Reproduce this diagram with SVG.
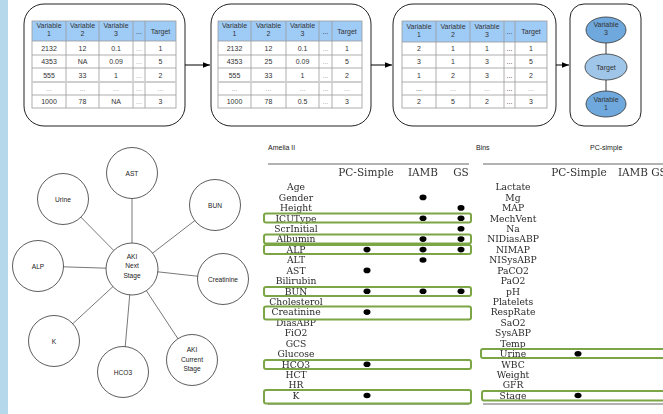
<svg xmlns="http://www.w3.org/2000/svg" width="663" height="414" viewBox="0 0 663 414">
  <defs>
    <marker id="arrowhead" viewBox="0 0 10 10" refX="10" refY="5" markerWidth="7" markerHeight="7" orient="auto" markerUnits="userSpaceOnUse">
      <path d="M0,1 L10,5 L0,9 Z" fill="#000"/>
    </marker>
    <filter id="soft" x="-5%" y="-5%" width="110%" height="110%">
      <feGaussianBlur stdDeviation="0.35"/>
    </filter>
    <style>
      .panel { fill: #fff; stroke: #222; stroke-width: 1; }
      .hdr { fill: #9fcbf7; }
      .grid { fill: none; stroke: #9a9a9a; stroke-width: 0.8; }
      .sep { stroke: #cfcfcf; stroke-width: 2; }
      .t { font-family: "Liberation Sans", Arial, sans-serif; font-size: 7px; fill: #333; text-anchor: middle; }
      .dim { fill: #999; }
      .flow { stroke: #000; stroke-width: 1; fill: none; }
      .edge { stroke: #555; stroke-width: 0.8; }
      .node { fill: #fff; stroke: #333; stroke-width: 0.8; }
      .lbl { font-family: "Liberation Sans", Arial, sans-serif; font-size: 6.6px; fill: #222; text-anchor: middle; }
      .var { fill: #6fa8dc; stroke: #333; stroke-width: 0.8; }
      .tgt { fill: #9fc5e8; stroke: #333; stroke-width: 0.8; }
      .cap { font-family: "Liberation Sans", Arial, sans-serif; font-size: 7px; fill: #222; }
      .rule { stroke: #666; stroke-width: 1.2; }
      .th { font-family: "DejaVu Serif", "Liberation Serif", serif; font-size: 10.5px; fill: #333; text-anchor: middle; }
      .rn { font-family: "DejaVu Serif", "Liberation Serif", serif; font-size: 9.2px; fill: #2a2a2a; text-anchor: middle; }
      .hit { fill: none; stroke: #7ba644; stroke-width: 2; }
      .dot { fill: #000; }
    </style>
  </defs>

  <rect x="0" y="0" width="663" height="414" fill="#fff"/>
  <!-- side band -->
  <rect x="0" y="0" width="8" height="414" fill="#b5d8ea"/>

  <!-- pipeline panels -->
  <g id="panel-raw">
    <rect class="panel" x="24" y="4" width="161" height="122" rx="20"/>
    <g transform="translate(32,0)">
      <rect class="hdr" x="0" y="21" width="144" height="20"/>
      <rect class="grid" x="0" y="21" width="144" height="87"/>
      <path class="grid" d="M0,41H144M0,55H144M0,68H144M0,95H144M34,21V108M67,21V108M101,21V108M113,21V108"/>
      <line class="sep" x1="0" y1="82" x2="144" y2="82"/>
      <text class="t" x="17" y="28">Variable</text><text class="t" x="17" y="36">1</text>
      <text class="t" x="50.5" y="28">Variable</text><text class="t" x="50.5" y="36">2</text>
      <text class="t" x="84" y="28">Variable</text><text class="t" x="84" y="36">3</text>
      <text class="t" x="107" y="33.5">...</text>
      <text class="t" x="128.5" y="33.5">Target</text>
      <text class="t" x="17" y="50.5">2132</text><text class="t" x="50.5" y="50.5">12</text><text class="t" x="84" y="50.5">0.1</text><text class="t dim" x="107" y="50.5">...</text><text class="t" x="128.5" y="50.5">1</text>
      <text class="t" x="17" y="64">4353</text><text class="t" x="50.5" y="64">NA</text><text class="t" x="84" y="64">0.09</text><text class="t dim" x="107" y="64">...</text><text class="t" x="128.5" y="64">5</text>
      <text class="t" x="17" y="77.5">555</text><text class="t" x="50.5" y="77.5">33</text><text class="t" x="84" y="77.5">1</text><text class="t dim" x="107" y="77.5">...</text><text class="t" x="128.5" y="77.5">2</text>
      <text class="t dim" x="17" y="91">...</text><text class="t dim" x="50.5" y="91">...</text><text class="t dim" x="84" y="91">...</text><text class="t dim" x="107" y="91">...</text><text class="t dim" x="128.5" y="91">...</text>
      <text class="t" x="17" y="104">1000</text><text class="t" x="50.5" y="104">78</text><text class="t" x="84" y="104">NA</text><text class="t dim" x="107" y="104">...</text><text class="t" x="128.5" y="104">3</text>
    </g>
  </g>

  <g id="panel-imputed">
    <rect class="panel" x="211" y="4" width="160" height="122" rx="20"/>
    <g transform="translate(218,0)">
      <rect class="hdr" x="0" y="21" width="144" height="20"/>
      <rect class="grid" x="0" y="21" width="144" height="87"/>
      <path class="grid" d="M0,41H144M0,55H144M0,68H144M0,95H144M33,21V108M68,21V108M101,21V108M114,21V108"/>
      <line class="sep" x1="0" y1="82" x2="144" y2="82"/>
      <text class="t" x="16.5" y="28">Variable</text><text class="t" x="16.5" y="36">1</text>
      <text class="t" x="50.5" y="28">Variable</text><text class="t" x="50.5" y="36">2</text>
      <text class="t" x="84.5" y="28">Variable</text><text class="t" x="84.5" y="36">3</text>
      <text class="t" x="107.5" y="33.5">...</text>
      <text class="t" x="129" y="33.5">Target</text>
      <text class="t" x="16.5" y="50.5">2132</text><text class="t" x="50.5" y="50.5">12</text><text class="t" x="84.5" y="50.5">0.1</text><text class="t dim" x="107.5" y="50.5">...</text><text class="t" x="129" y="50.5">1</text>
      <text class="t" x="16.5" y="64">4353</text><text class="t" x="50.5" y="64">25</text><text class="t" x="84.5" y="64">0.09</text><text class="t dim" x="107.5" y="64">...</text><text class="t" x="129" y="64">5</text>
      <text class="t" x="16.5" y="77.5">555</text><text class="t" x="50.5" y="77.5">33</text><text class="t" x="84.5" y="77.5">1</text><text class="t dim" x="107.5" y="77.5">...</text><text class="t" x="129" y="77.5">2</text>
      <text class="t dim" x="16.5" y="91">...</text><text class="t dim" x="50.5" y="91">...</text><text class="t dim" x="84.5" y="91">...</text><text class="t dim" x="107.5" y="91">...</text><text class="t dim" x="129" y="91">...</text>
      <text class="t" x="16.5" y="104">1000</text><text class="t" x="50.5" y="104">78</text><text class="t" x="84.5" y="104">0.5</text><text class="t dim" x="107.5" y="104">...</text><text class="t" x="129" y="104">3</text>
    </g>
  </g>

  <g id="panel-binned">
    <rect class="panel" x="393" y="4" width="163" height="122" rx="20"/>
    <g transform="translate(402,0)">
      <rect class="hdr" x="0" y="21" width="145" height="21"/>
      <rect class="grid" x="0" y="21" width="145" height="87"/>
      <path class="grid" d="M0,42H145M0,55H145M0,68H145M0,82H145M0,95H145M34,21V108M68,21V108M102,21V108M113,21V108"/>
      <text class="t" x="17" y="28.5">Variable</text><text class="t" x="17" y="36.5">1</text>
      <text class="t" x="51" y="28.5">Variable</text><text class="t" x="51" y="36.5">2</text>
      <text class="t" x="85" y="28.5">Variable</text><text class="t" x="85" y="36.5">3</text>
      <text class="t" x="107.5" y="34">...</text>
      <text class="t" x="129" y="34">Target</text>
      <text class="t" x="17" y="51">2</text><text class="t" x="51" y="51">1</text><text class="t" x="85" y="51">1</text><text class="t" x="107.5" y="51">...</text><text class="t" x="129" y="51">1</text>
      <text class="t" x="17" y="64">3</text><text class="t" x="51" y="64">1</text><text class="t" x="85" y="64">3</text><text class="t" x="107.5" y="64">...</text><text class="t" x="129" y="64">5</text>
      <text class="t" x="17" y="77.5">1</text><text class="t" x="51" y="77.5">2</text><text class="t" x="85" y="77.5">3</text><text class="t" x="107.5" y="77.5">...</text><text class="t" x="129" y="77.5">2</text>
      <text class="t" x="17" y="91">...</text><text class="t dim" x="51" y="91">...</text><text class="t dim" x="85" y="91">...</text><text class="t" x="107.5" y="91">...</text><text class="t dim" x="129" y="91">...</text>
      <text class="t" x="17" y="104">2</text><text class="t" x="51" y="104">5</text><text class="t" x="85" y="104">2</text><text class="t" x="107.5" y="104">...</text><text class="t" x="129" y="104">3</text>
    </g>
  </g>

  <g id="panel-network">
    <rect class="panel" x="570" y="4" width="71" height="122" rx="14"/>
    <line x1="606" y1="43" x2="606" y2="54" stroke="#222" stroke-width="0.9"/>
    <line x1="606" y1="80" x2="606" y2="91" stroke="#222" stroke-width="0.9"/>
    <g id="net-var3">
      <ellipse class="var" cx="606" cy="30" rx="20" ry="13"/>
      <text class="t" x="606" y="27">Variable</text><text class="t" x="606" y="35">3</text>
    </g>
    <g id="net-target">
      <ellipse class="tgt" cx="606" cy="67" rx="21" ry="13"/>
      <text class="t" x="606" y="69.5">Target</text>
    </g>
    <g id="net-var1">
      <ellipse class="var" cx="606" cy="104" rx="20" ry="13"/>
      <text class="t" x="606" y="101.5">Variable</text><text class="t" x="606" y="109.5">1</text>
    </g>
  </g>

  <!-- pipeline arrows -->
  <g id="pipeline-arrows">
    <line class="flow" x1="185" y1="65" x2="210" y2="65" marker-end="url(#arrowhead)"/>
    <line class="flow" x1="371" y1="65" x2="392" y2="65" marker-end="url(#arrowhead)"/>
    <line class="flow" x1="556" y1="65" x2="569" y2="65" marker-end="url(#arrowhead)"/>
  </g>

  <!-- star graph around AKI Next Stage -->
  <g id="star-edges">
    <line class="edge" x1="132" y1="269" x2="132" y2="173"/>
    <line class="edge" x1="132" y1="269" x2="63" y2="199"/>
    <line class="edge" x1="132" y1="269" x2="215" y2="205"/>
    <line class="edge" x1="132" y1="269" x2="38" y2="266"/>
    <line class="edge" x1="132" y1="269" x2="223" y2="279"/>
    <line class="edge" x1="132" y1="269" x2="54" y2="341"/>
    <line class="edge" x1="132" y1="269" x2="123" y2="372"/>
    <line class="edge" x1="132" y1="269" x2="192" y2="360"/>
  </g>
  <g id="node-ast"><circle class="node" cx="132" cy="173" r="25.5"/><text class="lbl" x="132" y="175.5">AST</text></g>
  <g id="node-urine"><circle class="node" cx="63" cy="199" r="25.5"/><text class="lbl" x="63" y="201.5">Urine</text></g>
  <g id="node-bun"><circle class="node" cx="215" cy="205" r="25.5"/><text class="lbl" x="215" y="207.5">BUN</text></g>
  <g id="node-alp"><circle class="node" cx="38" cy="266" r="25.5"/><text class="lbl" x="38" y="268.5">ALP</text></g>
  <g id="node-creatinine"><circle class="node" cx="223" cy="279" r="25.5"/><text class="lbl" x="223" y="281.5">Creatinine</text></g>
  <g id="node-k"><circle class="node" cx="54" cy="341" r="25.5"/><text class="lbl" x="54" y="343.5">K</text></g>
  <g id="node-hco3"><circle class="node" cx="123" cy="372" r="25.5"/><text class="lbl" x="123" y="374.5">HCO3</text></g>
  <g id="node-aki-current"><circle class="node" cx="192" cy="360" r="25.5"/>
    <text class="lbl" x="192" y="352.3">AKI</text><text class="lbl" x="192" y="361.6">Current</text><text class="lbl" x="192" y="370.9">Stage</text></g>
  <g id="node-aki-next"><circle class="node" cx="132" cy="269" r="26"/>
    <text class="lbl" x="132" y="258.5">AKI</text><text class="lbl" x="132" y="268">Next</text><text class="lbl" x="132" y="277.5">Stage</text></g>

  <!-- captions -->
  <text class="cap" x="268" y="149.5">Amelia II</text>
  <text class="cap" x="476" y="149.5">Bins</text>
  <text class="cap" x="590" y="149.5">PC-simple</text>

  <!-- feature selection tables -->
  <g id="selection-tables" filter="url(#soft)">
    <g id="table-left">
      <line class="rule" x1="268" y1="164" x2="469" y2="164"/>
      <line class="rule" x1="268" y1="404" x2="469" y2="404"/>
      <text class="th" x="366" y="176">PC-Simple</text>
      <text class="th" x="423" y="176">IAMB</text>
      <text class="th" x="461" y="176">GS</text>
      <g class="rn">
        <text x="296" y="190.3">Age</text>
        <text x="296" y="200.7">Gender</text>
        <text x="296" y="211.2">Height</text>
        <text x="296" y="221.6">ICUType</text>
        <text x="296" y="232">ScrInitial</text>
        <text x="296" y="242.4">Albumin</text>
        <text x="296" y="252.9">ALP</text>
        <text x="296" y="263.3">ALT</text>
        <text x="296" y="273.7">AST</text>
        <text x="296" y="284.1">Bilirubin</text>
        <text x="296" y="294.6">BUN</text>
        <text x="296" y="305">Cholesterol</text>
        <text x="296" y="315.4">Creatinine</text>
        <text x="296" y="325.8">DiasABP</text>
        <text x="296" y="336.3">FiO2</text>
        <text x="296" y="346.7">GCS</text>
        <text x="296" y="357.1">Glucose</text>
        <text x="296" y="367.5">HCO3</text>
        <text x="296" y="378">HCT</text>
        <text x="296" y="388.4">HR</text>
        <text x="296" y="398.8">K</text>
      </g>
      <g class="dot">
        <ellipse cx="423" cy="197.4" rx="3.5" ry="2.8"/>
        <ellipse cx="461" cy="207.9" rx="3.5" ry="2.8"/>
        <ellipse cx="423" cy="218.3" rx="3.5" ry="2.8"/><ellipse cx="461" cy="218.3" rx="3.5" ry="2.8"/>
        <ellipse cx="461" cy="228.7" rx="3.5" ry="2.8"/>
        <ellipse cx="423" cy="239.1" rx="3.5" ry="2.8"/><ellipse cx="461" cy="239.1" rx="3.5" ry="2.8"/>
        <ellipse cx="367" cy="249.6" rx="3.5" ry="2.8"/><ellipse cx="423" cy="249.6" rx="3.5" ry="2.8"/><ellipse cx="461" cy="249.6" rx="3.5" ry="2.8"/>
        <ellipse cx="423" cy="260" rx="3.5" ry="2.8"/>
        <ellipse cx="367" cy="270.4" rx="3.5" ry="2.8"/>
        <ellipse cx="367" cy="291.3" rx="3.5" ry="2.8"/><ellipse cx="423" cy="291.3" rx="3.5" ry="2.8"/><ellipse cx="461" cy="291.3" rx="3.5" ry="2.8"/>
        <ellipse cx="367" cy="312.1" rx="3.5" ry="2.8"/>
        <ellipse cx="367" cy="364.2" rx="3.5" ry="2.8"/>
        <ellipse cx="367" cy="395.5" rx="3.5" ry="2.8"/>
      </g>
      <g class="hit">
        <rect x="264" y="213.5" width="207" height="9" rx="2"/>
        <rect x="264" y="234.5" width="207" height="9" rx="2"/>
        <rect x="264" y="245" width="207" height="9" rx="2"/>
        <rect x="264" y="287" width="207" height="9" rx="2"/>
        <rect x="264" y="306.5" width="207" height="13" rx="2"/>
        <rect x="264" y="360" width="207" height="9" rx="2"/>
        <rect x="264" y="390" width="207" height="13.5" rx="2"/>
      </g>
    </g>
    <g id="table-right">
      <line class="rule" x1="483" y1="164" x2="663" y2="164"/>
      <line class="rule" x1="483" y1="404" x2="663" y2="404"/>
      <text class="th" x="579" y="176">PC-Simple</text>
      <text class="th" x="633" y="176">IAMB</text>
      <text class="th" x="659" y="176" text-anchor="start">GS</text>
      <g class="rn">
        <text x="513" y="190.3">Lactate</text>
        <text x="513" y="200.7">Mg</text>
        <text x="513" y="211.2">MAP</text>
        <text x="513" y="221.6">MechVent</text>
        <text x="513" y="232">Na</text>
        <text x="513" y="242.4">NIDiasABP</text>
        <text x="513" y="252.9">NIMAP</text>
        <text x="513" y="263.3">NISysABP</text>
        <text x="513" y="273.7">PaCO2</text>
        <text x="513" y="284.1">PaO2</text>
        <text x="513" y="294.6">pH</text>
        <text x="513" y="305">Platelets</text>
        <text x="513" y="315.4">RespRate</text>
        <text x="513" y="325.8">SaO2</text>
        <text x="513" y="336.3">SysABP</text>
        <text x="513" y="346.7">Temp</text>
        <text x="513" y="357.1">Urine</text>
        <text x="513" y="367.5">WBC</text>
        <text x="513" y="378">Weight</text>
        <text x="513" y="388.4">GFR</text>
        <text x="513" y="398.8">Stage</text>
      </g>
      <g class="dot">
        <ellipse cx="578" cy="353.8" rx="3.5" ry="2.8"/>
        <ellipse cx="578" cy="395.5" rx="3.5" ry="2.8"/>
      </g>
      <g class="hit">
        <rect x="481" y="349" width="190" height="9" rx="2"/>
        <rect x="482" y="391" width="190" height="9.5" rx="2"/>
      </g>
    </g>
  </g>
</svg>
